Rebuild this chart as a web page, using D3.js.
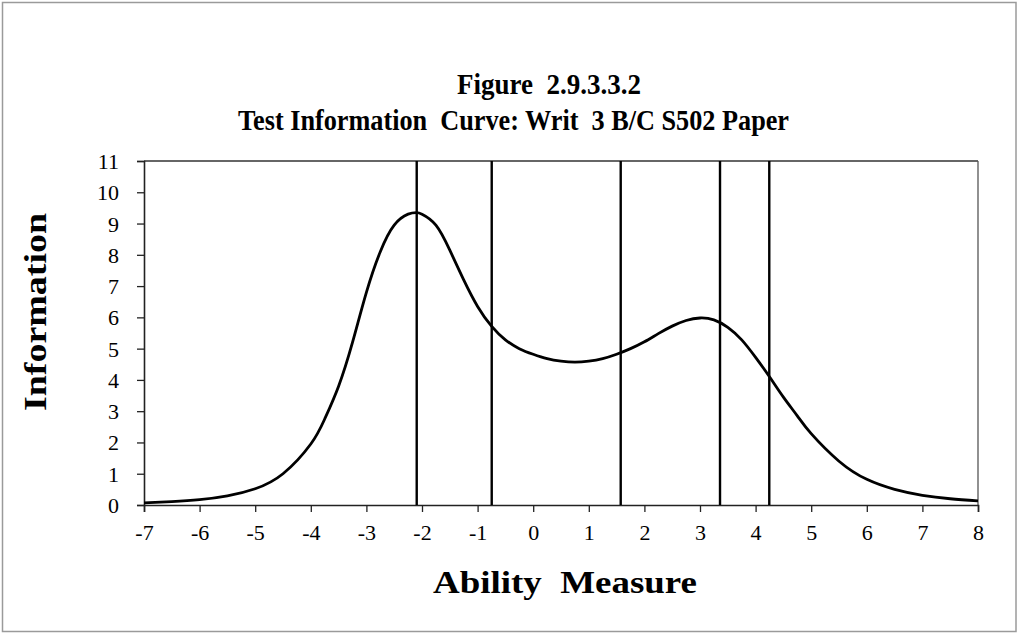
<!DOCTYPE html>
<html>
<head>
<meta charset="utf-8">
<script src="https://cdn.jsdelivr.net/npm/d3@7"></script>
<style>
  html, body { margin: 0; padding: 0; background: #fff; }
  svg { display: block; }
  text { font-family: "Liberation Serif", "Times New Roman", serif; fill: #000; }
</style>
</head>
<body>
<svg id="chart" width="1018" height="634"></svg>
<script>
// ---- data ----
const abilityX = [-7, -6.5, -6, -5.5, -5, -4.5, -4, -3.75, -3.5, -3.25, -3, -2.75, -2.5, -2.25, -2.1, -2,
  -1.75, -1.5, -1.25, -1, -0.75, -0.5, -0.25, 0, 0.25, 0.5, 0.75, 1, 1.25, 1.5, 1.75, 2, 2.25, 2.5, 2.75,
  3, 3.25, 3.5, 3.75, 4, 4.25, 4.5, 4.75, 5, 5.5, 6, 6.5, 7, 7.5, 8];
const information = [0.07, 0.11, 0.17, 0.29, 0.52, 1.0, 1.95, 2.75, 3.8, 5.2, 6.8, 8.1, 8.95, 9.3, 9.35, 9.3,
  8.95, 8.15, 7.2, 6.35, 5.72, 5.28, 5.0, 4.82, 4.68, 4.6, 4.57, 4.6, 4.68, 4.82, 5.0, 5.22, 5.48, 5.72, 5.9,
  5.98, 5.92, 5.68, 5.28, 4.72, 4.1, 3.45, 2.85, 2.28, 1.4, 0.82, 0.5, 0.31, 0.2, 0.13];
const cutPoints = [-2.095, -0.746, 1.574, 3.36, 4.246];
const xTicks = [-7, -6, -5, -4, -3, -2, -1, 0, 1, 2, 3, 4, 5, 6, 7, 8];
const yTicks = [0, 1, 2, 3, 4, 5, 6, 7, 8, 9, 10, 11];
const titleLines = ["Figure  2.9.3.3.2", "Test Information  Curve: Writ  3 B/C S502 Paper"];
const xTitle = "Ability  Measure";
const yTitle = "Information";

// ---- layout ----
const svg = d3.select("#chart");
const pLeft = 144, pRight = 978, pTop = 161, pBottom = 505;

const x = d3.scaleLinear().domain([-7, 8]).range([pLeft, pRight]);
const y = d3.scaleLinear().domain([0, 11]).range([pBottom, pTop]);

// outer frame
svg.append("rect").attr("x", 2.5).attr("y", 2.5).attr("width", 1013.5).attr("height", 629)
  .attr("fill", "#fff").attr("stroke", "#9a9a9a").attr("stroke-width", 1.5);

// plot area border (top & right)
svg.append("line").attr("x1", pLeft).attr("x2", pRight).attr("y1", pTop).attr("y2", pTop)
  .attr("stroke", "#333").attr("stroke-width", 1.3);
svg.append("line").attr("x1", pRight).attr("x2", pRight).attr("y1", pTop).attr("y2", pBottom)
  .attr("stroke", "#555").attr("stroke-width", 1.3);

// axes
const fmt = d => String(d);
const xAxis = d3.axisBottom(x).tickValues(xTicks).tickSize(7).tickPadding(11).tickFormat(fmt);
const yAxis = d3.axisLeft(y).tickValues(yTicks).tickSize(7).tickPadding(18).tickFormat(fmt);

const gx = svg.append("g").attr("transform", `translate(0,${pBottom})`).call(xAxis);
const gy = svg.append("g").attr("transform", `translate(${pLeft},0)`).call(yAxis);
[gx, gy].forEach(g => {
  g.select(".domain").attr("stroke", "#222").attr("stroke-width", 1.6);
  g.selectAll(".tick line").attr("stroke", "#222").attr("stroke-width", 1.3);
  g.selectAll(".tick text").attr("font-family", "Liberation Serif").attr("font-size", 22).attr("fill", "#000");
});
gy.selectAll(".tick text").attr("dy", "0.34em");
gx.selectAll(".tick text").attr("dy", "0.75em");

// vertical cut lines
svg.append("g").selectAll("line").data(cutPoints).join("line")
  .attr("x1", d => x(d)).attr("x2", d => x(d)).attr("y1", pTop).attr("y2", pBottom)
  .attr("stroke", "#000").attr("stroke-width", 2.4);

// curve
const pts = abilityX.map((v, i) => [v, information[i]]);
svg.append("path").datum(pts)
  .attr("fill", "none").attr("stroke", "#000").attr("stroke-width", 2.8)
  .attr("d", d3.line().x(d => x(d[0])).y(d => y(d[1])).curve(d3.curveNatural));

// titles
svg.append("text").attr("x", 457).attr("y", 94).attr("font-size", 30).attr("font-weight", "bold")
  .attr("textLength", 184).attr("lengthAdjust", "spacingAndGlyphs").style("white-space", "pre")
  .text(titleLines[0]);
svg.append("text").attr("x", 238).attr("y", 130).attr("font-size", 30).attr("font-weight", "bold")
  .attr("textLength", 551).attr("lengthAdjust", "spacingAndGlyphs").style("white-space", "pre")
  .text(titleLines[1]);

svg.append("text").attr("x", 433).attr("y", 593).attr("font-size", 31).attr("font-weight", "bold")
  .attr("textLength", 264).attr("lengthAdjust", "spacingAndGlyphs").style("white-space", "pre")
  .text(xTitle);

svg.append("text").attr("transform", "translate(46,411) rotate(-90)")
  .attr("font-size", 31).attr("font-weight", "bold")
  .attr("textLength", 198).attr("lengthAdjust", "spacingAndGlyphs")
  .text(yTitle);
</script>
</body>
</html>
